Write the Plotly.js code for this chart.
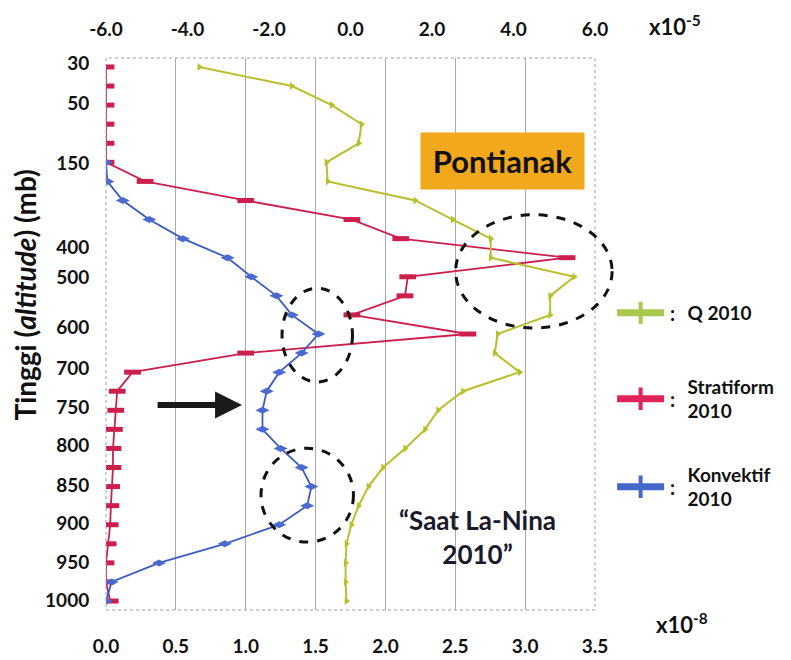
<!DOCTYPE html>
<html>
<head>
<meta charset="utf-8">
<script src="https://cdn.plot.ly/plotly-3.0.1.min.js"></script>
<style>html,body{margin:0;padding:0;background:#fff;}#chart{width:791px;height:660px;}</style>
</head>
<body>
<div id="chart"></div>
<script>
// Level index (top = 0 ... bottom = 28)
const levelIdx = [0,1,2,3,4,5,6,7,8,9,10,11,12,13,14,15,16,17,18,19,20,21,22,23,24,25,26,27,28];
// Q 2010 (x10^-5, top axis)
const qVals = [-3.71,-1.44,-0.46,0.27,0.20,-0.59,-0.56,1.59,2.51,3.44,3.44,5.49,4.90,4.90,3.61,3.54,4.15,2.76,2.15,1.83,1.34,0.80,0.44,0.20,0.02,-0.10,-0.12,-0.12,-0.10];
// Stratiform 2010 (x10^-8, bottom axis)
const stratVals = [0,0,0,0,0,0,0.28,1.00,1.76,2.11,3.30,2.16,2.14,1.76,2.59,1.00,0.19,0.08,0.07,0.06,0.05,0.05,0.04,0.035,0.03,0.015,0,0,0.03];
// Konvektif 2010 (x10^-8, bottom axis)
const konvVals = [null,null,null,null,null,0.0,0.01,0.12,0.31,0.55,0.87,1.04,1.22,1.33,1.52,1.40,1.24,1.15,1.12,1.12,1.25,1.40,1.47,1.44,1.24,0.85,0.38,0.04,0.0];

// Tick labels
const yTickPos = [-0.21,1.89,5.03,9.44,11.01,13.63,15.78,17.83,19.82,21.92,23.91,25.96,27.95];
const yTickText = ['30','50','150','400','500','600','700','750','800','850','900','950','1000'];
const bottomTicks = [0,0.5,1,1.5,2,2.5,3,3.5];
const bottomTickText = ['0.0','0.5','1.0','1.5','2.0','2.5','3.0','3.5'];
const topTicks = [-6,-4,-2,0,2,4,6];
const topTickText = ['-6.0','-4.0','-2.0','0.0','2.0','4.0','6.0'];

const FONT = 'Lato, "Open Sans", sans-serif';
const cRed = '#cc1f4e', cBlue = '#3c5cc4', cGreen = '#b9bf2c';
const PAD = '\u00a0\u00a0\u00a0\u00a0';

const traces = [
  {x: stratVals, y: levelIdx, name: 'Stratiform 2010', xaxis: 'x', yaxis: 'y', mode: 'lines+markers',
   line: {color: cRed, width: 1.8}, marker: {symbol: 'line-ew', size: 12, color: cRed, line: {color: cRed, width: 5}},
   showlegend: false},
  {x: konvVals, y: levelIdx, name: 'Konvektif 2010', xaxis: 'x', yaxis: 'y', mode: 'lines+markers',
   line: {color: cBlue, width: 1.8}, marker: {symbol: 'diamond-wide', size: 10, color: '#4a6ad0'},
   showlegend: false},
  {x: qVals, y: levelIdx, name: 'Q 2010', xaxis: 'x2', yaxis: 'y', mode: 'lines+markers',
   line: {color: cGreen, width: 2}, marker: {symbol: 'triangle-right', size: 7, color: cGreen},
   showlegend: false},
  // legend entries
  {x: [null], y: [null], name: PAD + 'Q 2010', mode: 'lines+markers', legend: 'legend',
   line: {color: '#a9c84e', width: 7}, marker: {symbol: 'line-ns', size: 16, color: '#a9c84e', line: {color: '#a9c84e', width: 4}}},
  {x: [null], y: [null], name: PAD + 'Stratiform<br>' + PAD + '2010', mode: 'lines+markers', legend: 'legend2',
   line: {color: '#e0245a', width: 7}, marker: {symbol: 'line-ns', size: 16, color: '#e0245a', line: {color: '#e0245a', width: 4}}},
  {x: [null], y: [null], name: PAD + 'Konvektif<br>' + PAD + '2010', mode: 'lines+markers', legend: 'legend3',
   line: {color: '#4468c8', width: 7}, marker: {symbol: 'line-ns', size: 16, color: '#4468c8', line: {color: '#4468c8', width: 4}}}
];

const tickFont = {family: FONT, size: 19, color: '#111', weight: 700};
const legFont = {family: FONT, size: 19, color: '#111', weight: 700};
function leg(y) {
  return {x: 1.035, xanchor: 'left', y: y, yanchor: 'middle', font: legFont, bgcolor: 'rgba(0,0,0,0)',
          borderwidth: 0, itemwidth: 47, valign: 'middle'};
}
function px2x(p) { return (p - 106) / 492; }
function px2y(p) { return (610 - p) / 552; }

const layout = {
  width: 791, height: 660,
  margin: {l: 106, r: 193, t: 58, b: 50},
  paper_bgcolor: '#fff', plot_bgcolor: '#fff',
  font: {family: FONT, color: '#111'},
  xaxis: {range: [0, 3.5], tickvals: bottomTicks, ticktext: bottomTickText, showgrid: true,
          gridcolor: '#a8a8b4', gridwidth: 1, zeroline: false, showline: false,
          ticks: 'outside', ticklen: 19, tickcolor: 'rgba(0,0,0,0)', tickfont: tickFont},
  xaxis2: {overlaying: 'x', side: 'top', range: [-6, 6], tickvals: topTicks, ticktext: topTickText,
           showgrid: false, zeroline: false, showline: false, ticks: 'outside', ticklen: 13,
           tickcolor: 'rgba(0,0,0,0)', tickfont: tickFont, anchor: 'y'},
  yaxis: {range: [28.47, -0.47], tickvals: yTickPos, ticktext: yTickText, showgrid: false,
          zeroline: false, showline: false, ticks: 'outside', ticklen: 12, tickcolor: 'rgba(0,0,0,0)',
          tickfont: tickFont},
  legend: leg(px2y(313)),
  legend2: leg(px2y(399)),
  legend3: leg(px2y(487)),
  shapes: [
    {type: 'rect', xref: 'paper', yref: 'paper', x0: 0, x1: 1, y0: 0, y1: 1,
     line: {color: '#a0a0a8', width: 1, dash: 'dot'}},
    {type: 'circle', xref: 'paper', yref: 'paper', x0: 0.360, x1: 0.504, y0: 0.413, y1: 0.583,
     line: {color: '#111', width: 3, dash: 'dash'}},
    {type: 'circle', xref: 'paper', yref: 'paper', x0: 0.715, x1: 1.035, y0: 0.511, y1: 0.716,
     line: {color: '#111', width: 3, dash: 'dash'}},
    {type: 'circle', xref: 'paper', yref: 'paper', x0: 0.317, x1: 0.506, y0: 0.123, y1: 0.293,
     line: {color: '#111', width: 3, dash: 'dash'}}
  ],
  annotations: [
    {xref: 'paper', yref: 'paper', x: px2x(25), y: px2y(295), text: 'Tinggi (<i>altitude</i>) (mb)', textangle: -90,
     showarrow: false, xanchor: 'center', yanchor: 'middle', font: {family: FONT, size: 28, weight: 700, color: '#111'}},
    {xref: 'paper', yref: 'paper', x: px2x(505), y: px2y(161), xanchor: 'center', yanchor: 'middle',
     text: 'Pontianak', showarrow: false,
     width: 163, height: 56, bgcolor: '#f2a81d', borderpad: 0,
     font: {family: FONT, size: 31, weight: 700, color: '#111'}},
    {xref: 'paper', yref: 'paper', x: px2x(480), y: px2y(537), xanchor: 'center', yanchor: 'middle',
     text: '“Saat La-Nina<br>2010”', showarrow: false,
     font: {family: FONT, size: 26, weight: 700, color: '#1a1a2a'}},
    {xref: 'paper', yref: 'paper', x: px2x(650), y: px2y(26), xanchor: 'left', yanchor: 'middle',
     text: 'x10<sup>-5</sup>', showarrow: false, font: {family: FONT, size: 22, weight: 700, color: '#111'}},
    {xref: 'paper', yref: 'paper', x: px2x(657), y: px2y(624), xanchor: 'left', yanchor: 'middle',
     text: 'x10<sup>-8</sup>', showarrow: false, font: {family: FONT, size: 22, weight: 700, color: '#111'}},
    {xref: 'x', yref: 'y', x: 0.974, y: 17.72, ax: -86, ay: 0, text: '', showarrow: true,
     arrowhead: 2, arrowsize: 0.9, arrowwidth: 6, arrowcolor: '#1a1a1a', standoff: 0},
    {xref: 'paper', yref: 'paper', x: px2x(676), y: px2y(313), xanchor: 'center', yanchor: 'middle', text: ':', showarrow: false,
     font: {family: FONT, size: 20, weight: 700, color: '#111'}},
    {xref: 'paper', yref: 'paper', x: px2x(676), y: px2y(399), xanchor: 'center', yanchor: 'middle', text: ':', showarrow: false,
     font: {family: FONT, size: 20, weight: 700, color: '#111'}},
    {xref: 'paper', yref: 'paper', x: px2x(676), y: px2y(487), xanchor: 'center', yanchor: 'middle', text: ':', showarrow: false,
     font: {family: FONT, size: 20, weight: 700, color: '#111'}}
  ]
};

Plotly.newPlot('chart', traces, layout, {displayModeBar: false, staticPlot: true});
</script>
</body>
</html>
